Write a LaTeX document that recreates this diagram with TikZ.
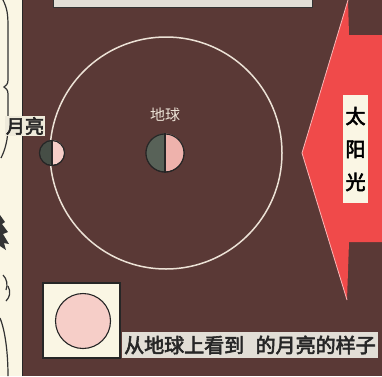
\documentclass[tikz,border=0pt]{standalone}
\usepackage{fontspec}
\newfontfamily\cjk{Noto Sans CJK SC}
\newfontfamily\cjkbold[FakeBold=3]{Noto Sans CJK SC}
\usetikzlibrary{positioning}

\definecolor{board}{RGB}{90,57,54}
\definecolor{paper}{RGB}{250,246,228}
\definecolor{sunred}{RGB}{240,74,74}
\definecolor{litside}{RGB}{238,178,172}
\definecolor{darkside}{RGB}{88,98,88}
\definecolor{moonpink}{RGB}{246,206,200}
\definecolor{orbitline}{RGB}{236,226,214}
\definecolor{tagfill}{RGB}{226,222,214}

\tikzset{
  orbit/.style={draw=orbitline, line width=1.5pt},
  body/.style={circle, draw=black!85, line width=1.1pt, inner sep=0pt},
  tag/.style={fill=tagfill, inner sep=1.5pt, text=black!85},
  ink/.style={draw=black!80, line width=1.2pt}
}

\begin{document}
\begin{tikzpicture}[x=1pt, y=1pt]
    \useasboundingbox (0,0) rectangle (382,376);

    % Orbit, earth and moon
    \def\ox{166} % orbit centre x
    \def\oy{223} % orbit centre y
    \def\orad{116}
    \def\er{19}   % earth radius
    \def\mr{12.5} % moon radius

    % Board and the comic strip on its left
    \fill[board] (0,0) rectangle (382,376);
    \fill[paper] (0,0) rectangle (22,376);
    \draw[black!85, line width=1.3pt] (22.5,0) -- (22.5,376);
    \draw[ink] (3,376) .. controls (7,368) and (8,362) .. (8,350) -- (8,296)
               .. controls (8,292) and (6,290) .. (4,289)
               .. controls (6,288) and (8,286) .. (8,282) -- (8,250)
               .. controls (8,236) and (5,226) .. (1,218);
    \fill[black!80] (0,161) -- (5,154) -- (2,152) -- (8,144) -- (3,142)
        -- (9,132) -- (4,133) -- (6,126) -- (0,130) -- cycle;
    \draw[ink] (3,101) .. controls (7,97) and (8,91) .. (6,86);
    \draw[ink] (8,90) .. controls (11,84) and (10,79) .. (6,75);
    \draw[ink] (0,58) .. controls (5,46) and (8,24) .. (8,0);

    % Strip of title box cut off at the top
    \filldraw[fill=tagfill, draw=black!80, line width=1pt] (53,369) rectangle (312,380);

    % Sunlight arrow
    \fill[sunred] (348,376) -- (349,341) -- (382,341) -- (382,134)
        -- (349,134) -- (347,76) -- (302,223) -- cycle;
    \draw[white!60!sunred, line width=0.8pt] (348,376) -- (302,223) -- (347,76);
    \node[fill=paper, font=\cjkbold\fontsize{20}{33}\selectfont, inner sep=2pt,
          align=center, minimum width=25pt, minimum height=108pt] (sun) at (355.5,227) {太\\阳\\光};

    \draw[orbit] (\ox,\oy) circle (\orad);

    \node[body, minimum size=2*\er pt] (earth) at (165,\oy) {};
    \fill[darkside] (earth.north) arc[start angle=90, end angle=270, radius=\er] -- cycle;
    \fill[litside] (earth.north) arc[start angle=90, end angle=-90, radius=\er] -- cycle;
    \draw[black!85, line width=1.1pt] (earth.north) -- (earth.south);
    \draw[black!85, line width=1.1pt] (earth) circle (\er);
    \node[font=\cjk\fontsize{15}{15}\selectfont, text=orbitline, above=8pt of earth] (earthlabel) {地球};

    \node[body, minimum size=2*\mr pt] (moon) at (52,\oy) {};
    \fill[darkside!80!black] (moon.north) arc[start angle=90, end angle=270, radius=\mr] -- cycle;
    \fill[moonpink] (moon.north) arc[start angle=90, end angle=-90, radius=\mr] -- cycle;
    \draw[black!85, line width=1.1pt] (moon.north) -- (moon.south);
    \draw[black!85, line width=1.1pt] (moon) circle (\mr);
    \node[tag, fill=paper!90!gray, font=\cjkbold\fontsize{19}{19}\selectfont, inner sep=1pt] (moonlabel) at (25,250) {月亮};

    % Full moon as seen from the earth
    \node[draw=black!85, fill=paper, line width=1.3pt, minimum width=77pt, minimum height=75pt] (view) at (81.5,55.5) {};
    \node[body, fill=moonpink, minimum size=55pt] (fullmoon) at (83,55) {};
    \node[tag, font=\cjkbold\fontsize{20}{20}\selectfont, anchor=west, inner sep=2pt, minimum height=26pt] (caption) at (122,31) {从地球上看到 \hspace{7pt}的月亮的样子};
\end{tikzpicture}
\end{document}
